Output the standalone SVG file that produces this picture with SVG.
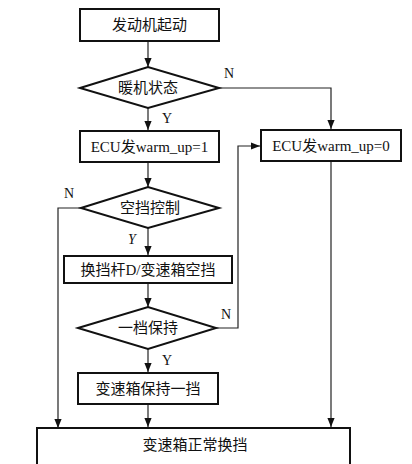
<svg xmlns="http://www.w3.org/2000/svg" width="412" height="464" viewBox="0 0 412 464">
<defs>
<style>
.n{fill:#fff;stroke:#111;stroke-width:2}
.t{font-family:"Liberation Serif","Noto Sans CJK SC",serif;font-size:15px;fill:#111;text-anchor:middle;dominant-baseline:central}
.l{font-family:"Liberation Serif",serif;font-size:14px;fill:#111}
.c{fill:none;stroke:#222;stroke-width:1.2}
</style>
<marker id="a" viewBox="0 0 10 10" refX="10" refY="5" markerWidth="9" markerHeight="9" markerUnits="userSpaceOnUse" orient="auto"><path d="M0,1 L10,5 L0,9 Z" fill="#111"/></marker>
</defs>
<rect width="412" height="464" fill="#fff"/>
<g id="connectors">
<path class="c" d="M148,41 V67" marker-end="url(#a)"/>
<path class="c" d="M219,88 H331 V129" marker-end="url(#a)"/>
<path class="c" d="M148,108 V130" marker-end="url(#a)"/>
<path class="c" d="M148,162 V187" marker-end="url(#a)"/>
<path class="c" d="M81,208 H58 V428" marker-end="url(#a)"/>
<path class="c" d="M148,228 V255" marker-end="url(#a)"/>
<path class="c" d="M148,283 V307" marker-end="url(#a)"/>
<path class="c" d="M216,328 H238 V146 H260" marker-end="url(#a)"/>
<path class="c" d="M148,349 V372" marker-end="url(#a)"/>
<path class="c" d="M148,404 V427" marker-end="url(#a)"/>
<path class="c" d="M331,161 V427" marker-end="url(#a)"/>
<text class="l" x="224" y="78">N</text>
<text class="l" x="162" y="123">Y</text>
<text class="l" x="64" y="198">N</text>
<text class="l" x="128" y="244" font-style="italic">Y</text>
<text class="l" x="221" y="319">N</text>
<text class="l" x="162" y="365">Y</text>
</g>
<g id="start"><rect class="n" x="80" y="9" width="139" height="32"/><text class="t" x="149.5" y="25">发动机起动</text></g>
<g id="warm"><path class="n" d="M80,88 L148,67 L219,88 L148,108 Z"/><text class="t" x="148" y="88">暖机状态</text></g>
<g id="ecu1"><rect class="n" x="80" y="131" width="139" height="31"/><text class="t" x="149.5" y="146.5">ECU发warm_up=1</text></g>
<g id="ecu0"><rect class="n" x="261" y="130" width="140" height="31"/><text class="t" x="331" y="145.5">ECU发warm_up=0</text></g>
<g id="neutral"><path class="n" d="M81,208 L148,187 L219,208 L148,228 Z"/><text class="t" x="150" y="208">空挡控制</text></g>
<g id="shift"><rect class="n" x="64" y="256" width="168" height="27"/><text class="t" x="148" y="269.5">换挡杆D/变速箱空挡</text></g>
<g id="first"><path class="n" d="M78,328 L148,307 L216,328 L148,349 Z"/><text class="t" x="148" y="328">一档保持</text></g>
<g id="hold"><rect class="n" x="78" y="373" width="140" height="31"/><text class="t" x="148" y="388.5">变速箱保持一挡</text></g>
<g id="normal"><rect class="n" x="37" y="428" width="313" height="45"/><text class="t" x="195" y="445">变速箱正常换挡</text></g>
</svg>
